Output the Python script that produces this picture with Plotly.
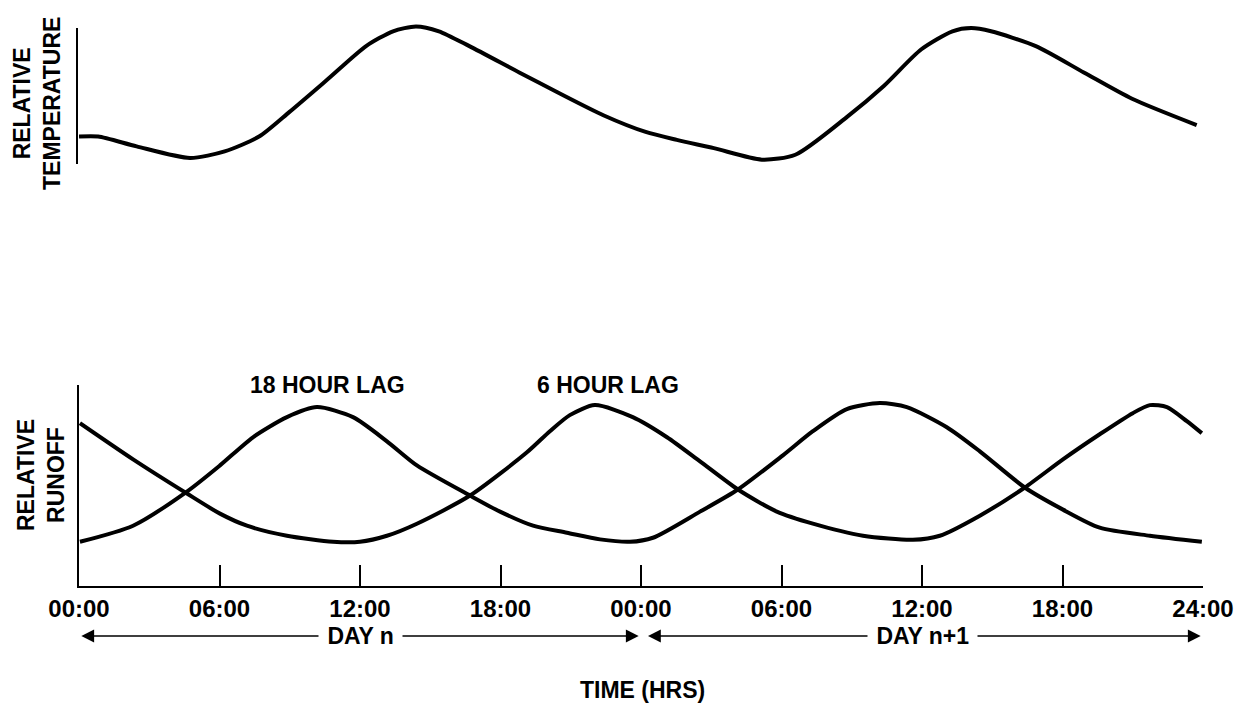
import plotly.graph_objects as go

# ---------------- data (hours from start of Day n, relative values) -------------
temp_hours = [0.0, 0.82, 2.46, 4.74, 6.22, 7.69, 8.99, 10.63, 12.26, 13.41, 14.39, 15.37,
              16.67, 18.80, 20.43, 22.39, 24.2, 25.53, 27.11, 29.16, 30.59, 32.80, 34.38,
              35.96, 37.30, 38.10, 38.95, 40.86, 42.91, 44.97, 47.73]
temp_values = [0.196, 0.196, 0.123, 0.037, 0.086, 0.196, 0.379, 0.622, 0.866, 0.976, 1.012,
               0.976, 0.866, 0.671, 0.524, 0.354, 0.23, 0.171, 0.110, 0.025, 0.061, 0.342,
               0.573, 0.841, 0.976, 1.0, 0.976, 0.866, 0.671, 0.476, 0.281]

lag18_hours = [0.04, 2.31, 4.61, 6.02, 7.43, 8.88, 10.16, 11.70, 13.15, 14.43, 16.70,
               17.98, 19.39, 20.84, 22.25, 23.53, 24.51, 26.52, 28.14, 30.06, 31.34,
               32.79, 34.20, 35.35, 37.06, 38.47, 40.39, 42.02, 43.59, 45.73, 47.95]
lag18_values = [0.22, 0.30, 0.47, 0.60, 0.74, 0.84, 0.89, 0.84, 0.72, 0.60, 0.45,
                0.37, 0.30, 0.265, 0.232, 0.22, 0.24, 0.37, 0.48, 0.65, 0.77,
                0.88, 0.91, 0.89, 0.79, 0.67, 0.49, 0.38, 0.29, 0.25, 0.22]

lag6_hours = [0.04, 2.31, 4.61, 6.02, 7.17, 8.88, 10.85, 12.00, 13.15, 14.43, 16.70,
              19.13, 20.11, 20.96, 22.03, 23.65, 25.11, 26.52, 28.14, 29.80, 31.34,
              33.48, 35.61, 36.76, 38.47, 40.39, 42.02, 43.59, 45.00, 45.73, 46.46,
              47.31, 47.95]
lag6_values = [0.81, 0.63, 0.46, 0.36, 0.30, 0.25, 0.22, 0.22, 0.25, 0.31, 0.45,
               0.665, 0.77, 0.85, 0.90, 0.84, 0.74, 0.62, 0.48, 0.37, 0.31,
               0.25, 0.23, 0.25, 0.35, 0.49, 0.63, 0.755, 0.86, 0.90, 0.89,
               0.82, 0.76]

tick_hours = [0, 6, 12, 18, 24, 30, 36, 42, 48]
tick_labels = ["00:00", "06:00", "12:00", "18:00", "00:00", "06:00", "12:00", "18:00", "24:00"]

# ---------------- layout geometry ----------------
W, H = 1247, 719
def px_x(p):
    return p / W
def px_y(p):
    return (H - p) / H

FONT = "Liberation Sans, Arial, sans-serif"
SPLINE = dict(color="black", width=4, shape="spline", smoothing=0.7)

fig = go.Figure()

fig.add_trace(go.Scatter(x=temp_hours, y=temp_values, mode="lines", line=SPLINE,
                         xaxis="x2", yaxis="y2", hoverinfo="skip", showlegend=False))
fig.add_trace(go.Scatter(x=lag18_hours, y=lag18_values, mode="lines", line=SPLINE,
                         xaxis="x", yaxis="y", hoverinfo="skip", showlegend=False))
fig.add_trace(go.Scatter(x=lag6_hours, y=lag6_values, mode="lines", line=SPLINE,
                         xaxis="x", yaxis="y", hoverinfo="skip", showlegend=False))

xdom = [px_x(79), px_x(1203)]

fig.update_layout(
    width=W, height=H,
    margin=dict(l=0, r=0, t=0, b=0, autoexpand=False),
    paper_bgcolor="white", plot_bgcolor="white",
    font=dict(family=FONT, color="black", size=24, weight="bold"),
    xaxis=dict(domain=xdom, range=[0, 48], showgrid=False, zeroline=False,
               showline=True, linecolor="black", linewidth=2, automargin=False,
               ticks="inside", ticklen=21, tickwidth=2, tickcolor="black",
               tickvals=tick_hours, ticktext=tick_labels,
               tickfont=dict(family=FONT, size=24, color="black", weight="bold"),
               anchor="y", fixedrange=True),
    yaxis=dict(domain=[px_y(586), px_y(385)], range=[0, 1], showgrid=False,
               zeroline=False, showline=True, linecolor="black", linewidth=2,
               automargin=False,
               showticklabels=False, ticks="", anchor="x", fixedrange=True),
    xaxis2=dict(domain=xdom, range=[0, 48], showgrid=False, zeroline=False,
                showline=False, showticklabels=False, ticks="", anchor="y2",
                automargin=False, fixedrange=True),
    yaxis2=dict(domain=[px_y(163), px_y(24)], range=[0, 1.03], showgrid=False,
                zeroline=False, showline=False, showticklabels=False, ticks="",
                anchor="x2", automargin=False, fixedrange=True),
)

# left axis line of the temperature panel
fig.add_shape(type="line", xref="paper", yref="paper",
              x0=px_x(77), x1=px_x(77), y0=px_y(164), y1=px_y(28),
              line=dict(color="black", width=2))

ann = []
def label(text, x, y, size=23, angle=0):
    ann.append(dict(text=text, x=x, y=y, xref="paper", yref="paper", showarrow=False,
                    textangle=angle, font=dict(size=size),
                    xanchor="center", yanchor="middle"))

label("RELATIVE<br>TEMPERATURE", px_x(37), px_y(104), angle=-90)
label("RELATIVE<br>RUNOFF", px_x(41), px_y(475), angle=-90)
label("18 HOUR LAG", px_x(327), px_y(385))
label("6 HOUR LAG", px_x(608), px_y(385))
label("TIME (HRS)", px_x(642), px_y(690))

# day arrows
arrow_y = px_y(636)
for head, tail in [(0.1, 12), (23.9, 12), (24.3, 36), (47.9, 36)]:
    ann.append(dict(text="", x=head, y=arrow_y, xref="x", yref="paper",
                    ax=tail, ay=0, axref="x", ayref="pixel",
                    showarrow=True, arrowhead=2, arrowsize=1.6, arrowwidth=1.6,
                    arrowcolor="black", standoff=0, startstandoff=0))
for txt, hx in [(" DAY n ", 12), (" DAY n+1 ", 36)]:
    ann.append(dict(text=txt, x=hx, y=arrow_y, xref="x", yref="paper", showarrow=False,
                    xanchor="center", yanchor="middle",
                    bgcolor="white", font=dict(size=23), borderpad=2))

fig.update_layout(annotations=ann)

fig.write_html("out.html", post_script="document.body.style.margin='0';",
               config={"displayModeBar": False, "staticPlot": True})
